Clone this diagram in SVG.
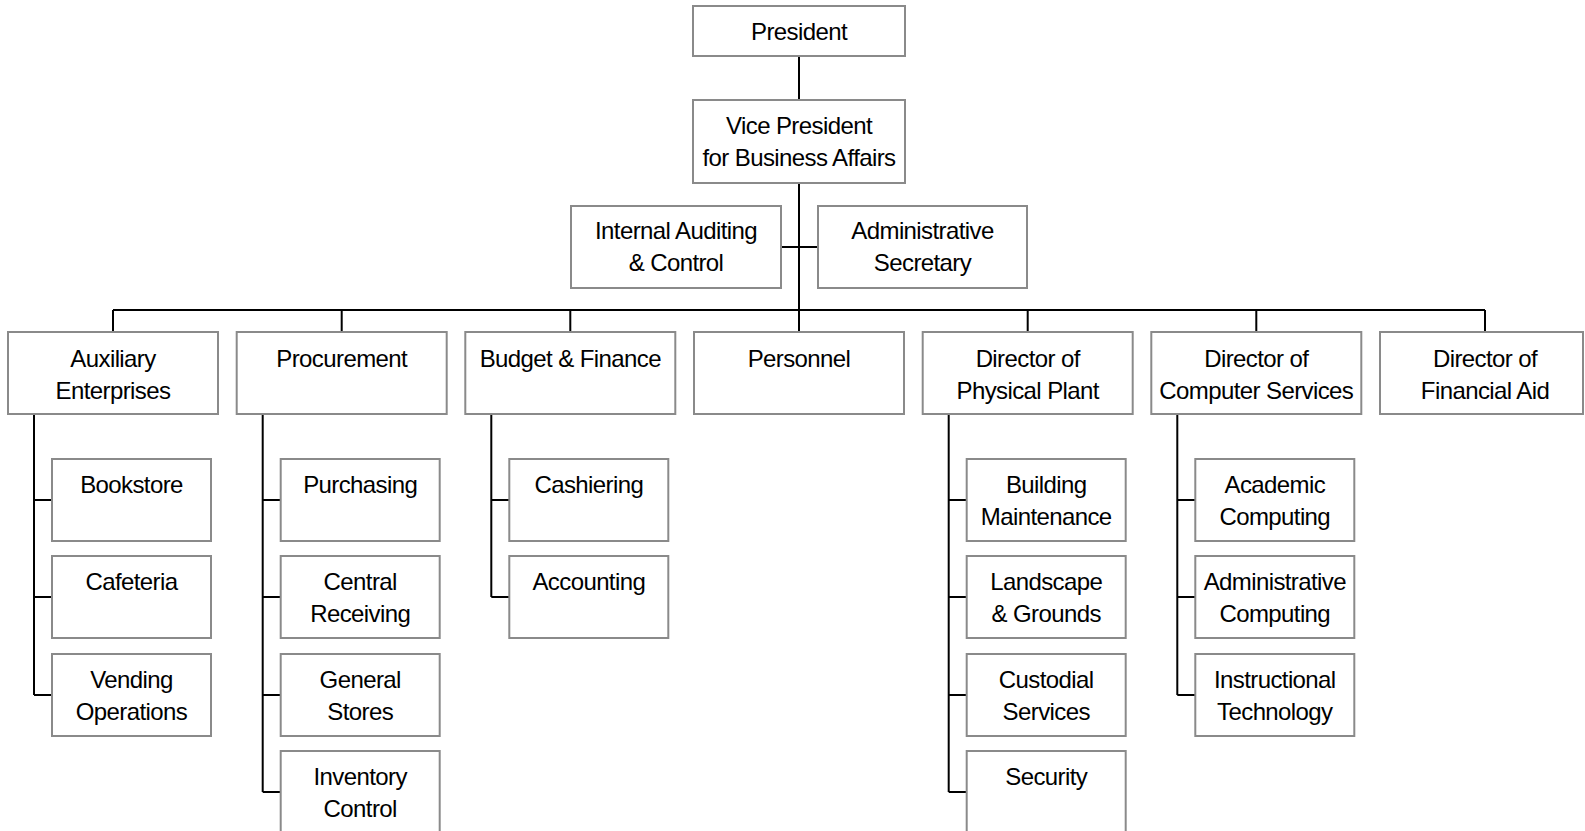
<svg xmlns="http://www.w3.org/2000/svg" width="1585" height="831" viewBox="0 0 1585 831">
<style>
.box{fill:#fff;stroke:#8a8a8a;stroke-width:2}
.ln{fill:none;stroke:#000;stroke-width:2}
text{font-family:"Liberation Sans",Arial,sans-serif;font-size:24px;letter-spacing:-0.6px;fill:#000;text-anchor:middle}
</style>
<rect width="1585" height="831" fill="#fff"/>
<g id="connectors">
<path class="ln" d="M799 56V100M799 183V310M781 247H818M113 310H1485"/>
<path class="ln" d="M113 310V332M341.7 310V332M570.3 310V332M799 310V332M1027.7 310V332M1256.3 310V332M1485 310V332"/>
<path class="ln" d="M34 414V695M34 500H52M34 597H52M34 695H52"/>
<path class="ln" d="M262.7 414V792M262.7 500H280.7M262.7 597H280.7M262.7 695H280.7M262.7 792H280.7"/>
<path class="ln" d="M491.3 414V597M491.3 500H509.3M491.3 597H509.3"/>
<path class="ln" d="M948.7 414V792M948.7 500H966.7M948.7 597H966.7M948.7 695H966.7M948.7 792H966.7"/>
<path class="ln" d="M1177.3 414V695M1177.3 500H1195.3M1177.3 597H1195.3M1177.3 695H1195.3"/>
</g>
<g id="president"><rect class="box" x="693" y="6" width="212" height="50"/><text x="799" y="40">President</text></g>
<g id="vp"><rect class="box" x="693" y="100" width="212" height="83"/><text x="799" y="134">Vice President</text><text x="799" y="165.5">for Business Affairs</text></g>
<g id="audit"><rect class="box" x="571" y="206" width="210" height="82"/><text x="676" y="239">Internal Auditing</text><text x="676" y="270.5">&amp; Control</text></g>
<g id="secretary"><rect class="box" x="818" y="206" width="209" height="82"/><text x="922.5" y="239">Administrative</text><text x="922.5" y="270.5">Secretary</text></g>

<g id="auxiliary"><rect class="box" x="8" y="332" width="210" height="82"/><text x="113" y="367">Auxiliary</text><text x="113" y="398.5">Enterprises</text></g>
<g id="procurement"><rect class="box" x="236.7" y="332" width="210" height="82"/><text x="341.7" y="367">Procurement</text></g>
<g id="budget"><rect class="box" x="465.3" y="332" width="210" height="82"/><text x="570.3" y="367">Budget &amp; Finance</text></g>
<g id="personnel"><rect class="box" x="694" y="332" width="210" height="82"/><text x="799" y="367">Personnel</text></g>
<g id="physical-plant"><rect class="box" x="922.7" y="332" width="210" height="82"/><text x="1027.7" y="367">Director of</text><text x="1027.7" y="398.5">Physical Plant</text></g>
<g id="computer-services"><rect class="box" x="1151.3" y="332" width="210" height="82"/><text x="1256.3" y="367">Director of</text><text x="1256.3" y="398.5">Computer Services</text></g>
<g id="financial-aid"><rect class="box" x="1380" y="332" width="203" height="82"/><text x="1485" y="367">Director of</text><text x="1485" y="398.5">Financial Aid</text></g>

<g id="bookstore"><rect class="box" x="52" y="459" width="159" height="82"/><text x="131.5" y="493">Bookstore</text></g>
<g id="cafeteria"><rect class="box" x="52" y="556" width="159" height="82"/><text x="131.5" y="590">Cafeteria</text></g>
<g id="vending"><rect class="box" x="52" y="654" width="159" height="82"/><text x="131.5" y="688">Vending</text><text x="131.5" y="719.5">Operations</text></g>

<g id="purchasing"><rect class="box" x="280.7" y="459" width="159" height="82"/><text x="360.2" y="493">Purchasing</text></g>
<g id="central-receiving"><rect class="box" x="280.7" y="556" width="159" height="82"/><text x="360.2" y="590">Central</text><text x="360.2" y="621.5">Receiving</text></g>
<g id="general-stores"><rect class="box" x="280.7" y="654" width="159" height="82"/><text x="360.2" y="688">General</text><text x="360.2" y="719.5">Stores</text></g>
<g id="inventory-control"><rect class="box" x="280.7" y="751" width="159" height="82"/><text x="360.2" y="785">Inventory</text><text x="360.2" y="816.5">Control</text></g>

<g id="cashiering"><rect class="box" x="509.3" y="459" width="159" height="82"/><text x="588.8" y="493">Cashiering</text></g>
<g id="accounting"><rect class="box" x="509.3" y="556" width="159" height="82"/><text x="588.8" y="590">Accounting</text></g>

<g id="building-maintenance"><rect class="box" x="966.7" y="459" width="159" height="82"/><text x="1046.2" y="493">Building</text><text x="1046.2" y="524.5">Maintenance</text></g>
<g id="landscape"><rect class="box" x="966.7" y="556" width="159" height="82"/><text x="1046.2" y="590">Landscape</text><text x="1046.2" y="621.5">&amp; Grounds</text></g>
<g id="custodial"><rect class="box" x="966.7" y="654" width="159" height="82"/><text x="1046.2" y="688">Custodial</text><text x="1046.2" y="719.5">Services</text></g>
<g id="security"><rect class="box" x="966.7" y="751" width="159" height="82"/><text x="1046.2" y="785">Security</text></g>

<g id="academic-computing"><rect class="box" x="1195.3" y="459" width="159" height="82"/><text x="1274.8" y="493">Academic</text><text x="1274.8" y="524.5">Computing</text></g>
<g id="administrative-computing"><rect class="box" x="1195.3" y="556" width="159" height="82"/><text x="1274.8" y="590">Administrative</text><text x="1274.8" y="621.5">Computing</text></g>
<g id="instructional-technology"><rect class="box" x="1195.3" y="654" width="159" height="82"/><text x="1274.8" y="688">Instructional</text><text x="1274.8" y="719.5">Technology</text></g>
</svg>
